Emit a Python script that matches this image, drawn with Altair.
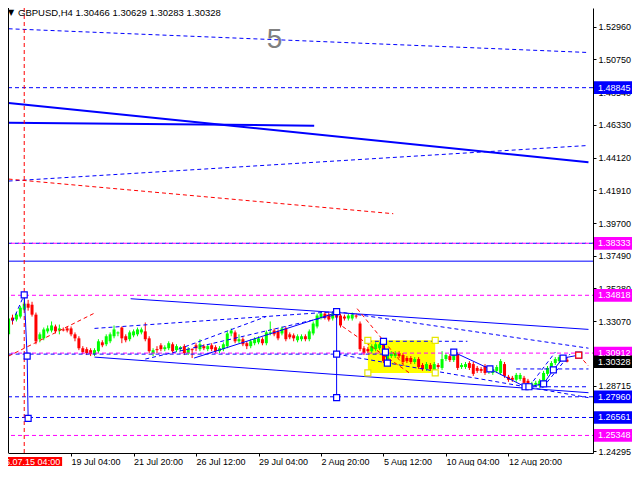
import altair as alt
import pandas as pd

# ---------------- candle data (H4 GBPUSD) ----------------
opens = [1.3218, 1.3331, 1.3318, 1.3338, 1.3385, 1.3425, 1.3418, 1.3351, 1.3185, 1.3191,
         1.3238, 1.3244, 1.3271, 1.3244, 1.3251, 1.3258, 1.3258, 1.3218, 1.3191, 1.3124,
         1.3118, 1.3111, 1.3084, 1.3104, 1.3164, 1.3151, 1.3171, 1.3205, 1.3224, 1.3264,
         1.3205, 1.3185, 1.3211, 1.3218, 1.3231, 1.3238, 1.3191, 1.3091, 1.3118, 1.3144,
         1.3118, 1.3124, 1.3151, 1.3111, 1.3118, 1.3138, 1.3091, 1.3118, 1.3144, 1.3118,
         1.3138, 1.3118, 1.3144, 1.3131, 1.3104, 1.3118, 1.3138, 1.3224, 1.3231, 1.3171,
         1.3185, 1.3158, 1.3138, 1.3158, 1.3164, 1.3185, 1.3158, 1.3224, 1.3244, 1.3238,
         1.3224, 1.3258, 1.3218, 1.3211, 1.3178, 1.3185, 1.3205, 1.3185, 1.3224, 1.3271,
         1.3331, 1.3358, 1.3351, 1.3325, 1.3358, 1.3345, 1.3338, 1.3325, 1.3325, 1.3345,
         1.3291, 1.3124, 1.3118, 1.3104, 1.3118, 1.3124, 1.3171, 1.3037, 1.3071, 1.3071,
         1.3091, 1.3078, 1.3058, 1.3058, 1.3031, 1.3051, 1.3011, 1.2984, 1.3011, 1.2971,
         1.3011, 1.2991, 1.3051, 1.3071, 1.3044, 1.3084, 1.2997, 1.2997, 1.3024, 1.3017,
         1.2991, 1.2984, 1.3004, 1.2964, 1.2957, 1.2971, 1.2957, 1.3017, 1.2931, 1.2924,
         1.2911, 1.2917, 1.2924, 1.2904, 1.2871, 1.2877, 1.2871, 1.2890, 1.2951, 1.2984,
         1.3024, 1.3037, 1.3044, 1.30466]
highs = [1.3472, 1.3351, 1.3365, 1.3411, 1.3485, 1.3451, 1.3438, 1.3365, 1.3231, 1.3264,
         1.3278, 1.3305, 1.3284, 1.3284, 1.3264, 1.3271, 1.3271, 1.3231, 1.3205, 1.3138,
         1.3131, 1.3124, 1.3124, 1.3185, 1.3178, 1.3218, 1.3231, 1.3278, 1.3238, 1.3271,
         1.3218, 1.3244, 1.3251, 1.3264, 1.3264, 1.3298, 1.3205, 1.3124, 1.3138, 1.3158,
         1.3144, 1.3171, 1.3164, 1.3151, 1.3138, 1.3151, 1.3131, 1.3124, 1.3158, 1.3185,
         1.3151, 1.3151, 1.3158, 1.3144, 1.3138, 1.3164, 1.3238, 1.3258, 1.3244, 1.3218,
         1.3198, 1.3171, 1.3185, 1.3198, 1.3205, 1.3198, 1.3244, 1.3305, 1.3258, 1.3251,
         1.3271, 1.3271, 1.3231, 1.3224, 1.3218, 1.3218, 1.3218, 1.3251, 1.3305, 1.3358,
         1.3371, 1.3371, 1.3365, 1.3371, 1.3378, 1.3358, 1.3351, 1.3358, 1.3365, 1.3358,
         1.3305, 1.3138, 1.3131, 1.3151, 1.3164, 1.3164, 1.3185, 1.3098, 1.3104, 1.3104,
         1.3104, 1.3091, 1.3071, 1.3071, 1.3064, 1.3064, 1.3024, 1.3031, 1.3024, 1.3031,
         1.3024, 1.3104, 1.3091, 1.3084, 1.3098, 1.3098, 1.3024, 1.3031, 1.3037, 1.3031,
         1.3004, 1.2997, 1.3017, 1.2997, 1.2997, 1.3011, 1.3051, 1.3031, 1.2944, 1.2937,
         1.2957, 1.2957, 1.2937, 1.2917, 1.2897, 1.2904, 1.2917, 1.2971, 1.3004, 1.3037,
         1.3064, 1.3078, 1.3071, 1.30629]
lows = [1.3205, 1.3284, 1.3305, 1.3325, 1.3378, 1.3378, 1.3338, 1.3151, 1.3164, 1.3178,
        1.3224, 1.3231, 1.3224, 1.3218, 1.3238, 1.3231, 1.3205, 1.3171, 1.3111, 1.3084,
        1.3078, 1.3071, 1.3071, 1.3091, 1.3131, 1.3138, 1.3158, 1.3191, 1.3205, 1.3158,
        1.3164, 1.3171, 1.3198, 1.3205, 1.3218, 1.3171, 1.3091, 1.3071, 1.3091, 1.3104,
        1.3104, 1.3111, 1.3091, 1.3098, 1.3104, 1.3078, 1.3078, 1.3058, 1.3104, 1.3104,
        1.3111, 1.3104, 1.3104, 1.3091, 1.3091, 1.3104, 1.3124, 1.3205, 1.3158, 1.3158,
        1.3138, 1.3118, 1.3124, 1.3144, 1.3151, 1.3144, 1.3144, 1.3211, 1.3205, 1.3178,
        1.3211, 1.3171, 1.3185, 1.3171, 1.3164, 1.3171, 1.3171, 1.3171, 1.3211, 1.3258,
        1.3318, 1.3318, 1.3305, 1.3311, 1.3318, 1.3264, 1.3311, 1.3311, 1.3311, 1.3325,
        1.3104, 1.3078, 1.3091, 1.3091, 1.3104, 1.3111, 1.3024, 1.3024, 1.3058, 1.3058,
        1.3058, 1.3017, 1.3024, 1.3017, 1.3017, 1.2984, 1.2971, 1.2971, 1.2971, 1.2957,
        1.2984, 1.2977, 1.3037, 1.3031, 1.3031, 1.2977, 1.2984, 1.2984, 1.2977, 1.2937,
        1.2957, 1.2957, 1.2944, 1.2951, 1.2944, 1.2957, 1.2944, 1.2924, 1.2897, 1.2897,
        1.2897, 1.2904, 1.2877, 1.2864, 1.2864, 1.2864, 1.2857, 1.2877, 1.2937, 1.2971,
        1.3011, 1.3024, 1.3037, 1.30283]
closes = [1.3325, 1.3311, 1.3351, 1.3398, 1.3425, 1.3398, 1.3351, 1.3171, 1.3218, 1.3251,
          1.3258, 1.3278, 1.3238, 1.3258, 1.3244, 1.3244, 1.3218, 1.3191, 1.3124, 1.3098,
          1.3091, 1.3084, 1.3111, 1.3171, 1.3144, 1.3205, 1.3218, 1.3251, 1.3231, 1.3191,
          1.3178, 1.3231, 1.3238, 1.3251, 1.3251, 1.3185, 1.3104, 1.3111, 1.3111, 1.3118,
          1.3131, 1.3158, 1.3104, 1.3138, 1.3131, 1.3091, 1.3118, 1.3111, 1.3124, 1.3151,
          1.3124, 1.3138, 1.3118, 1.3104, 1.3124, 1.3151, 1.3224, 1.3244, 1.3171, 1.3185,
          1.3151, 1.3138, 1.3171, 1.3185, 1.3191, 1.3158, 1.3231, 1.3231, 1.3218, 1.3191,
          1.3258, 1.3185, 1.3198, 1.3191, 1.3205, 1.3205, 1.3185, 1.3238, 1.3291, 1.3345,
          1.3358, 1.3331, 1.3318, 1.3358, 1.3331, 1.3278, 1.3325, 1.3345, 1.3351, 1.3338,
          1.3118, 1.3091, 1.3104, 1.3138, 1.3151, 1.3151, 1.3037, 1.3084, 1.3091, 1.3091,
          1.3071, 1.3031, 1.3037, 1.3031, 1.3051, 1.2997, 1.2984, 1.3017, 1.2984, 1.3017,
          1.2997, 1.3051, 1.3078, 1.3044, 1.3084, 1.2991, 1.3011, 1.3017, 1.2991, 1.2951,
          1.2971, 1.2971, 1.2957, 1.2984, 1.2984, 1.2997, 1.3037, 1.2937, 1.2911, 1.2911,
          1.2944, 1.2944, 1.2890, 1.2871, 1.2884, 1.2890, 1.2904, 1.2957, 1.2991, 1.3024,
          1.3051, 1.3064, 1.3047, 1.30328]

# ---------------- axes ----------------
x_tick_idx = [16, 32, 48, 64, 80, 96, 112, 128]
x_tick_lbl = ["19 Jul 04:00", "21 Jul 20:00", "26 Jul 12:00", "29 Jul 04:00",
              "2 Aug 20:00", "5 Aug 12:00", "10 Aug 04:00", "12 Aug 20:00"]
y_ticks = [1.52960, 1.50750, 1.48540, 1.46330, 1.44120, 1.41910, 1.39700, 1.37490,
           1.35280, 1.33070, 1.28715, 1.24295]

# ---------------- levels with price boxes ----------------
levels = [1.48845, 1.38333, 1.34818, 1.30912, 1.30328, 1.27960, 1.26561, 1.25348]
level_colors = ["#0000ff", "#ff00ff", "#ff00ff", "#ff00ff", "#000000", "#0000ff", "#0000ff", "#ff00ff"]

hl_blue_dash = [1.48845, 1.27960, 1.26561, 1.38333]
hl_mag_dash = [1.38333, 1.34818, 1.30912, 1.25348]
hl_blue_solid = [1.37124]

# segments: (i1, p1, i2, p2)
thick_lines = [(0, 1.47815, 148.5, 1.43805), (0, 1.46478, 78.25, 1.46278)]
blue_solid_lines = [(31.25, 1.34585, 148.5, 1.32513), (22, 1.30641, 148.5, 1.28237),
                    (47.5, 1.30576, 84, 1.33649)]
blue_dash_lines = [(0, 1.52826, 148.5, 1.51222), (0, 1.42536, 148.5, 1.44941),
                   (22, 1.32580, 84, 1.33716), (35, 1.30509, 84, 1.33516),
                   (43.5, 1.31177, 66, 1.33382), (84, 1.33716, 148.5, 1.31244),
                   (84, 1.30843, 148.5, 1.27903), (0, 1.30843, 97, 1.30843),
                   (92, 1.31710, 117.5, 1.31710), (130, 1.29841, 148.5, 1.29841),
                   (132.5, 1.28638, 148.5, 1.28638), (133.25, 1.28638, 140, 1.30976),
                   (136.75, 1.28571, 143.75, 1.30843), (1, 1.33048, 4, 1.34852)]
red_dash_lines = [(0, 1.42670, 98.5, 1.40331), (0, 1.30708, 21.75, 1.33582),
                  (89.25, 1.33916, 101.75, 1.29907), (85.5, 1.32714, 103, 1.29506),
                  (146, 1.30776, 148.5, 1.30041)]

zigzags = [
    [(4, 1.34852), (4.75, 1.30708), (5, 1.26500)],
    [(84, 1.33716), (84, 1.30843), (84, 1.27903)],
    [(96, 1.31710), (96.5, 1.30976), (97, 1.30241)],
    [(114, 1.30976), (123.25, 1.29841), (132.25, 1.28638)],
    [(133.25, 1.28638), (137, 1.28838), (139.5, 1.29774), (142, 1.30576), (146, 1.30776)],
]
red_marker = [(146, 1.30776)]
box_x = [92, 109.25]
box_p = [1.31778, 1.29573]
vline_idx = 4

# ---------------- scales / axes ----------------
PW, PH = 585, 445
xs = alt.Scale(domain=[1.125, 148.375], nice=False, zero=False)
ys = alt.Scale(domain=[1.24162, 1.54229], nice=False, zero=False)
FONT = "Liberation Sans"

label_expr = "".join(f"datum.value == {v} ? '{t}' : " for v, t in zip(x_tick_idx, x_tick_lbl)) + "''"

x_axis = alt.Axis(orient="bottom", values=x_tick_idx, labelExpr=label_expr, grid=False,
                  domainColor="black", tickColor="black", tickSize=3, labelAlign="left",
                  labelBaseline="top", labelPadding=1, labelFont=FONT, labelFontSize=9,
                  labelColor="black", title=None, labelOverlap=False, labelFlush=False)
y_axis = alt.Axis(orient="right", values=y_ticks, format=".5f", grid=False,
                  domainColor="black", tickColor="black", tickSize=3, labelPadding=2,
                  labelFont=FONT, labelFontSize=9, labelColor="black", title=None,
                  labelOverlap=False, labelFlush=False)


def X(f, **kw):
    return alt.X(f, type="quantitative", scale=xs, axis=x_axis, **kw)


def Y(f, **kw):
    return alt.Y(f, type="quantitative", scale=ys, axis=y_axis, **kw)


cdf = pd.DataFrame({"i": list(range(len(opens))), "o": opens, "h": highs, "l": lows, "c": closes})
cdf["col"] = ["#00ff00" if c >= o else "#ff0000" for o, c in zip(opens, closes)]

layers = []

# yellow rectangle (background object)
rect_df = pd.DataFrame({"x1": [box_x[0]], "x2": [box_x[1]], "y1": [box_p[0]], "y2": [box_p[1]]})
layers.append(alt.Chart(rect_df).mark_rect(color="#ffff00").encode(
    x=X("x1"), x2="x2", y=Y("y1"), y2="y2"))

# wicks
layers.append(alt.Chart(cdf).mark_rule(strokeWidth=1).encode(
    x=X("i"), y=Y("l"), y2="h", color=alt.Color("col:N", scale=None)))
# bodies
layers.append(alt.Chart(cdf).mark_bar(size=3).encode(
    x=X("i"), y=Y("o"), y2="c", color=alt.Color("col:N", scale=None)))


def seg_df(segs):
    return pd.DataFrame(segs, columns=["a", "p", "b", "q"])


def seg_layer(segs, color, width=1, dash=None):
    kw = dict(color=color, strokeWidth=width)
    if dash:
        kw["strokeDash"] = dash
    return alt.Chart(seg_df(segs)).mark_rule(**kw).encode(x=X("a"), y=Y("p"), x2="b", y2="q")


def hline_layer(vals, color, dash=None, offset=0):
    kw = dict(color=color, strokeWidth=1)
    if dash:
        kw["strokeDash"] = dash
        kw["strokeDashOffset"] = offset
    return alt.Chart(pd.DataFrame({"v": vals})).mark_rule(**kw).encode(y=Y("v"))


layers.append(hline_layer(hl_blue_solid, "#0000ff"))
layers.append(hline_layer(hl_blue_dash, "#0000ff", [4, 3]))
layers.append(hline_layer(hl_mag_dash, "#ff00ff", [4, 3], 3))
layers.append(seg_layer(thick_lines, "#0000ff", 2))
layers.append(seg_layer(blue_solid_lines, "#0000ff", 1))
layers.append(seg_layer(blue_dash_lines, "#0000ff", 1, [4, 3]))
layers.append(seg_layer(red_dash_lines, "#ff0000", 1, [4, 3]))

# red vertical dashed line
layers.append(alt.Chart(pd.DataFrame({"v": [vline_idx]})).mark_rule(
    color="#ff0000", strokeDash=[4, 3], strokeWidth=1).encode(x=X("v")))

# zigzag paths
zsegs = []
for path in zigzags:
    for (a, p), (b, q) in zip(path[:-1], path[1:]):
        zsegs.append((a, p, b, q))
layers.append(seg_layer(zsegs, "#0000ff", 1))

# markers
sq = pd.DataFrame([pt for path in zigzags for pt in path], columns=["a", "p"])
layers.append(alt.Chart(sq).mark_point(shape="square", filled=True, fill="white", stroke="#0000ff",
                                       strokeWidth=1.2, size=36, opacity=1).encode(x=X("a"), y=Y("p")))
ysq = pd.DataFrame([(box_x[0], box_p[0]), (box_x[1], box_p[0]), (box_x[0], box_p[1]), (box_x[1], box_p[1])],
                   columns=["a", "p"])
layers.append(alt.Chart(ysq).mark_point(shape="square", filled=True, fill="white", stroke="#e6e600",
                                        strokeWidth=1.2, size=36, opacity=1).encode(x=X("a"), y=Y("p")))
layers.append(alt.Chart(pd.DataFrame(red_marker, columns=["a", "p"])).mark_point(
    shape="square", filled=True, fill="white", stroke="#ff0000", strokeWidth=1.2, size=36, opacity=1
).encode(x=X("a"), y=Y("p")))

# big wave label "5"
layers.append(alt.Chart(pd.DataFrame({"a": [68.1], "p": [1.52058], "t": ["5"]})).mark_text(
    font=FONT, fontSize=28, color="#808080", align="center", baseline="middle").encode(
    x=X("a"), y=Y("p"), text="t:N"))

# price boxes on the right axis
lv = pd.DataFrame({"v": levels, "col": level_colors})
lv["top"] = lv["v"] + 0.0043
lv["bot"] = lv["v"] - 0.0043
lv["txt"] = [f"{v:.5f}" for v in levels]
layers.append(alt.Chart(lv).mark_rect().encode(
    x=alt.value(PW + 1), x2=alt.value(PW + 39), y=Y("top"), y2="bot", color=alt.Color("col:N", scale=None)))
layers.append(alt.Chart(lv).mark_text(font=FONT, fontSize=9, color="white", align="left",
                                      baseline="middle").encode(x=alt.value(PW + 5), y=Y("v"), text="txt:N"))

# red date box on the time axis
db = pd.DataFrame({"a": [-6.2], "b": [13.7], "p": [1.23891], "q": [1.23215],
                   "m": [13.2], "c": [1.23553], "t": ["2016.07.15 04:00"]})
layers.append(alt.Chart(db).mark_rect(color="#ff0000").encode(x=X("a"), x2="b", y=Y("p"), y2="q"))
layers.append(alt.Chart(db).mark_text(font=FONT, fontSize=9, color="white", align="right",
                                      baseline="middle").encode(x=X("m"), y=Y("c"), text="t:N"))

# left frame line
layers.append(alt.Chart(pd.DataFrame({"v": [0]})).mark_rule(color="black", strokeWidth=1).encode(
    x=alt.value(0.5)))

# header
hdr = pd.DataFrame({"t": ["GBPUSD,H4  1.30466 1.30629 1.30283 1.30328"], "s": ["\u25bc"]})
layers.append(alt.Chart(hdr).mark_text(font=FONT, fontSize=9.5, color="black", align="left",
                                       baseline="middle").encode(x=alt.value(10), y=alt.value(5), text="t:N"))
layers.append(alt.Chart(hdr).mark_text(font="DejaVu Sans", fontSize=8, color="black", align="left",
                                       baseline="middle").encode(x=alt.value(0), y=alt.value(5), text="s:N"))

chart = alt.layer(*layers).properties(
    width=PW, height=PH,
    autosize=alt.AutoSizeParams(type="none"),
    padding={"left": 0, "top": 0, "right": 39, "bottom": 13},
    background="white",
).configure_view(stroke=None)

chart.save("out.html", embed_options={"renderer": "svg", "actions": False})
